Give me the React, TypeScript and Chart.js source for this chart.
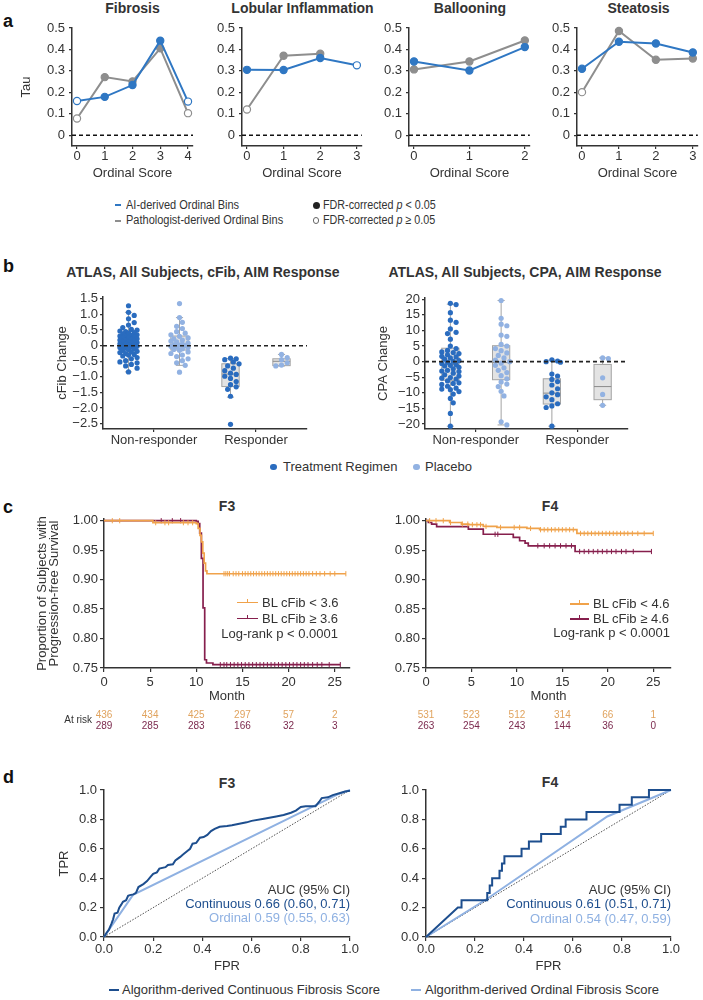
import React, { useEffect, useRef } from 'react';
import { Chart, registerables } from 'chart.js';
Chart.register(...registerables);

const FONT = "'Liberation Sans', Arial, Helvetica, sans-serif";
const AX = '#333333';
const TXT = '#333333';
const BLUE = '#2f77c3';
const GRAY = '#8e8e8e';
const TREAT = '#2a6cbf';
const PLAC = '#92b2e2';
const ORANGE = '#f0a24a';
const MAROON = '#861f4d';
const ROC_DARK = '#1d4e8e';
const ROC_LIGHT = '#8fb1e2';

// ---------------- Panel a ----------------
const tauTicks = [0, 0.1, 0.2, 0.3, 0.4, 0.5];
const tauTickLabels = ['0', '0.1', '0.2', '0.3', '0.4', '0.5'];

const fibrosisScores = [0, 1, 2, 3, 4];
const fibrosisAI = [0.16, 0.179, 0.234, 0.441, 0.157];
const fibrosisAISig = [false, true, true, true, false];
const fibrosisPath = [0.078, 0.271, 0.251, 0.405, 0.103];
const fibrosisPathSig = [false, true, true, true, false];

const lobularScores = [0, 1, 2, 3];
const lobularAI = [0.305, 0.304, 0.36, 0.326];
const lobularAISig = [true, true, true, false];
const lobularPath = [0.12, 0.371, 0.38];
const lobularPathSig = [false, true, true];

const balloonScores = [0, 1, 2];
const balloonAI = [0.344, 0.302, 0.411];
const balloonAISig = [true, true, true];
const balloonPath = [0.307, 0.344, 0.442];
const balloonPathSig = [true, true, true];

const steatosisScores = [0, 1, 2, 3];
const steatosisAI = [0.31, 0.436, 0.428, 0.386];
const steatosisAISig = [true, true, true, true];
const steatosisPath = [0.201, 0.486, 0.352, 0.358];
const steatosisPathSig = [false, true, true, true];

// ---------------- Panel b ----------------
const groupPositions = [1, 2, 3, 4];
const groupTicks = [1.5, 3.5];
const groupLabels = ['Non-responder', 'Responder'];

const cfibTicks = [-2.5, -2.0, -1.5, -1.0, -0.5, 0, 0.5, 1.0, 1.5];
const cfibTickLabels = ['−2.5', '−2.0', '−1.5', '−1.0', '−0.5', '0', '0.5', '1.0', '1.5'];
const cfibNonRespTreat = [1.28, 1.07, 0.97, 0.86, 0.74, 0.66, 0.58, 0.52, 0.5, 0.47, 0.45, 0.42, 0.4, 0.38, 0.35, 0.33, 0.31, 0.3, 0.28, 0.26, 0.24, 0.22, 0.2, 0.18, 0.17, 0.15, 0.13, 0.12, 0.1, 0.08, 0.06, 0.05, 0.03, 0.02, 0.0, -0.02, -0.04, -0.06, -0.08, -0.1, -0.12, -0.15, -0.18, -0.2, -0.22, -0.25, -0.28, -0.3, -0.33, -0.38, -0.42, -0.48, -0.52, -0.55, -0.6, -0.65, -0.72, -0.84];
const cfibNonRespPlacebo = [1.35, 0.9, 0.75, 0.62, 0.55, 0.45, 0.4, 0.35, 0.3, 0.25, 0.22, 0.18, 0.15, 0.12, 0.08, 0.05, 0.03, 0.02, 0.0, -0.02, -0.04, -0.06, -0.1, -0.12, -0.15, -0.2, -0.25, -0.3, -0.35, -0.42, -0.48, -0.55, -0.63, -0.85];
const cfibRespTreat = [-0.4, -0.42, -0.45, -0.52, -0.58, -0.65, -0.72, -0.8, -0.88, -0.92, -0.98, -1.05, -1.15, -1.25, -1.32, -1.4, -1.62, -2.52];
const cfibRespPlacebo = [-0.28, -0.38, -0.45, -0.55, -0.62, -0.65];
const cfibLow = [-0.84, -0.63, -1.65, -0.65];
const cfibQ1 = [-0.22, -0.14, -1.31, -0.64];
const cfibMed = [0.06, 0.02, -0.91, -0.5];
const cfibQ3 = [0.33, 0.31, -0.58, -0.42];
const cfibHigh = [1.07, 0.9, -0.41, -0.28];

const cpaTicks = [-20, -15, -10, -5, 0, 5, 10, 15, 20];
const cpaTickLabels = ['−20', '−15', '−10', '−5', '0', '5', '10', '15', '20'];
const cpaNonRespTreat = [18.7, 18.3, 15.7, 13.3, 12.6, 10.5, 9.4, 9.0, 7.2, 5.0, 4.2, 3.6, 3.1, 2.9, 2.6, 2.2, 1.7, 1.5, 1.2, 0.8, 0.3, 0.1, -0.2, -0.6, -1.0, -1.2, -1.4, -1.8, -2.3, -2.8, -3.0, -3.2, -3.7, -4.2, -4.6, -5.1, -5.3, -5.6, -6.2, -6.8, -7.0, -7.3, -7.9, -8.5, -8.8, -9.0, -9.6, -10.4, -11.8, -13.2, -16.6, -20.7];
const cpaNonRespPlacebo = [19.6, 13.9, 12.0, 11.5, 8.5, 8.1, 5.5, 5.0, 4.2, 3.5, 2.8, 2.0, 1.2, 0.5, 0.0, -0.5, -1.2, -2.0, -2.8, -3.5, -4.5, -5.5, -6.5, -7.2, -8.0, -9.5, -11.0, -19.3, -20.3];
const cpaRespTreat = [0.6, 0.2, 0.0, -0.2, -4.0, -4.6, -5.7, -6.4, -7.5, -8.7, -10.0, -10.6, -11.3, -12.2, -13.5, -14.2, -14.7, -20.7];
const cpaRespPlacebo = [1.2, 1.0, -5.2, -10.5, -14.0];
const cpaLow = [-20.7, -20.3, -20.7, -14.0];
const cpaQ1 = [-6.0, -5.8, -13.6, -12.2];
const cpaMed = [-0.9, -0.3, -10.1, -8.0];
const cpaQ3 = [4.3, 5.1, -5.5, -0.9];
const cpaHigh = [18.4, 19.6, 0.5, 1.2];

// ---------------- Panel c ----------------
const monthTicks = [0, 5, 10, 15, 20, 25];
const monthLabels = ['0', '5', '10', '15', '20', '25'];
const kmTicks = [0.75, 0.8, 0.85, 0.9, 0.95, 1.0];
const kmTickLabels = ['0.75', '0.80', '0.85', '0.90', '0.95', '1.00'];

const f3LowTimes = [0, 5.3, 10.0, 10.2, 10.4, 10.55, 10.7, 10.85, 11.0, 11.15, 26.2];
const f3LowSurv = [1.0, 0.9966, 0.995, 0.987, 0.975, 0.964, 0.945, 0.928, 0.915, 0.91, 0.91];
const f3LowCensor = [0.9, 1.7, 5.6, 6.6, 7.0, 8.6, 9.1, 9.6, 13.0, 13.2, 13.4, 13.6, 14.0, 14.3, 14.6, 15.0, 15.3, 15.6, 15.9, 16.2, 16.5, 16.8, 17.1, 17.4, 17.7, 18.0, 18.3, 18.6, 18.9, 19.2, 19.5, 19.8, 20.1, 20.4, 20.7, 21.0, 21.3, 21.6, 21.9, 22.2, 22.6, 23.0, 23.4, 23.9, 24.5, 25.0, 26.2];
const f3HighTimes = [0, 10.0, 10.2, 10.37, 10.55, 10.73, 10.91, 11.1, 11.8, 25.6];
const f3HighSurv = [1.0, 0.999, 0.995, 0.979, 0.936, 0.852, 0.764, 0.7585, 0.7557, 0.7557];
const f3HighCensor = [6.2, 7.4, 8.3, 12.6, 13.0, 13.3, 13.7, 14.1, 14.5, 14.9, 15.3, 15.7, 16.1, 16.5, 16.9, 17.3, 17.7, 18.1, 18.5, 18.9, 19.3, 19.7, 20.1, 20.5, 20.9, 21.3, 21.7, 22.1, 22.6, 23.1, 23.6, 24.4, 25.6];

const f4LowTimes = [0, 2.6, 3.9, 4.7, 6.3, 7.8, 11.1, 12.5, 16.6, 25.0];
const f4LowSurv = [1.0, 0.997, 0.9943, 0.9932, 0.9903, 0.9886, 0.9869, 0.9847, 0.9784, 0.9784];
const f4LowCensor = [0.4, 1.1, 1.9, 2.7, 4.0, 4.6, 5.1, 5.6, 6.0, 6.6, 8.2, 9.7, 10.3, 11.5, 12.6, 13.0, 13.4, 13.8, 14.2, 14.6, 15.0, 15.4, 15.8, 16.2, 17.0, 17.4, 17.8, 18.2, 18.6, 19.0, 19.4, 19.8, 20.2, 20.6, 21.0, 21.4, 21.8, 22.2, 22.7, 23.3, 24.0, 25.0];
const f4HighTimes = [0, 0.26, 0.62, 1.17, 4.66, 6.3, 9.6, 10.3, 10.9, 11.25, 16.4, 24.8];
const f4HighSurv = [1.0, 0.997, 0.9943, 0.9898, 0.9858, 0.977, 0.9716, 0.966, 0.962, 0.9574, 0.9477, 0.9477];
const f4HighCensor = [7.6, 7.9, 12.3, 13.0, 13.6, 14.2, 14.8, 15.4, 16.0, 16.9, 17.4, 17.9, 18.4, 18.9, 19.4, 19.9, 20.4, 20.9, 21.5, 22.0, 22.8, 24.8];

const f3AtRiskLow = [436, 434, 425, 297, 57, 2];
const f3AtRiskHigh = [289, 285, 283, 166, 32, 3];
const f4AtRiskLow = [531, 523, 512, 314, 66, 1];
const f4AtRiskHigh = [263, 254, 243, 144, 36, 0];

// ---------------- Panel d ----------------
const rocTicks = [0, 0.2, 0.4, 0.6, 0.8, 1.0];
const rocTickLabels = ['0.0', '0.2', '0.4', '0.6', '0.8', '1.0'];
const rocF3ContFpr = [0, 0.01, 0.02, 0.03, 0.037, 0.043, 0.055, 0.062, 0.07, 0.077, 0.09, 0.098, 0.105, 0.12, 0.13, 0.14, 0.16, 0.175, 0.19, 0.2, 0.215, 0.225, 0.25, 0.26, 0.28, 0.29, 0.31, 0.32, 0.335, 0.35, 0.36, 0.375, 0.39, 0.405, 0.42, 0.435, 0.45, 0.47, 0.5, 0.52, 0.55, 0.58, 0.6, 0.65, 0.7, 0.73, 0.76, 0.78, 0.8, 0.82, 0.86, 0.875, 0.885, 0.91, 0.93, 0.96, 0.98, 1.0];
const rocF3ContTpr = [0, 0.027, 0.05, 0.09, 0.12, 0.16, 0.165, 0.2, 0.22, 0.24, 0.25, 0.28, 0.285, 0.29, 0.3, 0.34, 0.36, 0.38, 0.41, 0.43, 0.44, 0.465, 0.475, 0.49, 0.495, 0.52, 0.545, 0.56, 0.58, 0.6, 0.635, 0.64, 0.675, 0.68, 0.695, 0.72, 0.735, 0.75, 0.755, 0.76, 0.77, 0.78, 0.79, 0.805, 0.82, 0.83, 0.845, 0.86, 0.885, 0.89, 0.89, 0.92, 0.945, 0.95, 0.965, 0.98, 0.99, 0.995];
const rocF3OrdFpr = [0, 0.118, 0.95, 1.0];
const rocF3OrdTpr = [0, 0.287, 0.97, 1.0];
const rocF4ContFpr = [0, 0.13, 0.145, 0.145, 0.25, 0.25, 0.26, 0.26, 0.27, 0.27, 0.30, 0.30, 0.31, 0.31, 0.32, 0.32, 0.39, 0.39, 0.42, 0.42, 0.47, 0.47, 0.55, 0.55, 0.57, 0.57, 0.655, 0.655, 0.79, 0.79, 0.84, 0.84, 0.91, 0.91, 1.0];
const rocF4ContTpr = [0, 0.2, 0.2, 0.25, 0.25, 0.30, 0.30, 0.35, 0.35, 0.40, 0.40, 0.45, 0.45, 0.50, 0.50, 0.55, 0.55, 0.60, 0.60, 0.65, 0.65, 0.70, 0.70, 0.75, 0.75, 0.80, 0.80, 0.85, 0.85, 0.90, 0.90, 0.95, 0.95, 1.0, 1.0];
const rocF4OrdFpr = [0, 0.25, 0.74, 1.0];
const rocF4OrdTpr = [0, 0.26, 0.82, 1.0];

// ---------------- helpers ----------------
type Box = { L: number; T: number; W: number; H: number; area: number[]; xH: number };
type AxisOpt = { min: number; max: number; ticks: number[]; labels: string[]; title?: string | string[]; titleLH?: number; tl: number; pad: number };

function layoutPadding(b: Box) {
  const [x1, y1, x2, y2] = b.area;
  return { left: 0, top: y1 - b.T, right: b.L + b.W - x2, bottom: b.T + b.H - y2 - b.xH };
}

function zeroPad(s: any) {
  s.paddingLeft = 0; s.paddingRight = 0; s.paddingTop = 0; s.paddingBottom = 0;
}

function axis(b: Box, o: AxisOpt, horizontal: boolean) {
  return {
    type: 'linear',
    position: horizontal ? 'bottom' : 'left',
    min: o.min,
    max: o.max,
    border: { display: true, color: AX, width: 1.5 },
    grid: { display: true, drawOnChartArea: false, drawTicks: true, tickLength: o.tl, color: AX, lineWidth: 1.2 },
    ticks: {
      color: TXT, font: { family: FONT, size: 13 }, padding: o.pad, autoSkip: false, maxRotation: 0, minRotation: 0,
      callback: (_v: any, i: number) => o.labels[i],
    },
    title: o.title
      ? { display: true, text: o.title, color: TXT, font: { family: FONT, size: 13, lineHeight: o.titleLH ?? 1.2 }, padding: 0 }
      : { display: false },
    afterBuildTicks: (s: any) => { s.ticks = o.ticks.map((v) => ({ value: v })); },
    afterFit: (s: any) => {
      if (horizontal) s.height = b.xH; else s.width = b.area[0] - b.L;
      zeroPad(s);
    },
  };
}

function baseOptions(b: Box, scales: any) {
  return {
    responsive: false,
    maintainAspectRatio: false,
    animation: false,
    events: [],
    layout: { padding: layoutPadding(b) },
    plugins: { legend: { display: false }, tooltip: { enabled: false }, title: { display: false } },
    scales,
  };
}

function refLinePlugin(y: number, color: string, width: number, dash: number[]) {
  return {
    id: 'refLine',
    beforeDatasetsDraw(chart: any) {
      const { ctx, chartArea, scales } = chart;
      const py = scales.y.getPixelForValue(y);
      ctx.save();
      ctx.strokeStyle = color; ctx.lineWidth = width; ctx.setLineDash(dash);
      ctx.beginPath(); ctx.moveTo(chartArea.left, py); ctx.lineTo(chartArea.right, py); ctx.stroke();
      ctx.restore();
    },
  };
}

function boxPlugin(low: number[], q1: number[], med: number[], q3: number[], high: number[]) {
  return {
    id: 'boxes',
    beforeDatasetsDraw(chart: any) {
      const { ctx, scales: { x, y } } = chart;
      ctx.save();
      groupPositions.forEach((p, g) => {
        const xc = x.getPixelForValue(p);
        const hw = x.getPixelForValue(p + 0.17) - xc;
        const cw = x.getPixelForValue(p + 0.07) - xc;
        const yl = y.getPixelForValue(low[g]);
        const yq1 = y.getPixelForValue(q1[g]);
        const ym = y.getPixelForValue(med[g]);
        const yq3 = y.getPixelForValue(q3[g]);
        const yh = y.getPixelForValue(high[g]);
        ctx.strokeStyle = '#a3a3a3'; ctx.lineWidth = 1;
        ctx.beginPath();
        ctx.moveTo(xc, yh); ctx.lineTo(xc, yq3);
        ctx.moveTo(xc, yq1); ctx.lineTo(xc, yl);
        ctx.moveTo(xc - cw, yh); ctx.lineTo(xc + cw, yh);
        ctx.moveTo(xc - cw, yl); ctx.lineTo(xc + cw, yl);
        ctx.stroke();
        ctx.fillStyle = '#e3e3e3';
        ctx.fillRect(xc - hw, yq3, 2 * hw, yq1 - yq3);
        ctx.strokeRect(xc - hw, yq3, 2 * hw, yq1 - yq3);
        ctx.strokeStyle = '#8a8a8a';
        ctx.beginPath(); ctx.moveTo(xc - hw, ym); ctx.lineTo(xc + hw, ym); ctx.stroke();
      });
      ctx.restore();
    },
    afterDatasetsDraw(chart: any) {
      const { ctx, chartArea, scales: { y } } = chart;
      const py = y.getPixelForValue(0);
      ctx.save();
      ctx.strokeStyle = '#222'; ctx.lineWidth = 1.6; ctx.setLineDash([4, 3]);
      ctx.beginPath(); ctx.moveTo(chartArea.left, py); ctx.lineTo(chartArea.right, py); ctx.stroke();
      ctx.restore();
    },
  };
}

function atRiskPlugin(rows: number[][], colors: string[], dys: number[], label: string | null) {
  return {
    id: 'atRisk',
    afterDraw(chart: any) {
      const { ctx, chartArea, scales } = chart;
      ctx.save();
      ctx.font = `10px ${FONT}`;
      ctx.textBaseline = 'middle';
      ctx.textAlign = 'center';
      rows.forEach((row, r) => {
        ctx.fillStyle = colors[r];
        row.forEach((n, i) => ctx.fillText(String(n), scales.x.getPixelForValue(monthTicks[i]), chartArea.bottom + dys[r]));
      });
      if (label) {
        ctx.fillStyle = TXT; ctx.textAlign = 'right';
        ctx.fillText(label, chartArea.left - 12, chartArea.bottom + (dys[0] + dys[1]) / 2);
      }
      ctx.restore();
    },
  };
}

function swarmOffsets(values: number[], yPx: number, xPx: number, diam: number, maxOff: number): number[] {
  const order = values.map((_, i) => i).sort((a, b) => values[b] - values[a]);
  const placed: { x: number; y: number }[] = [];
  const out: number[] = values.map(() => 0);
  const step = diam * 0.55;
  for (const i of order) {
    const y = values[i] * yPx;
    let chosen = 0;
    let bestGap = -1;
    for (let k = 0; k < 200; k++) {
      const c = k === 0 ? 0 : (k % 2 === 1 ? 1 : -1) * Math.ceil(k / 2) * step;
      if (Math.abs(c) > maxOff) break;
      let gap = Infinity;
      for (const p of placed) {
        const d = Math.hypot(p.x - c, p.y - y);
        if (d < gap) gap = d;
      }
      if (gap >= diam) { chosen = c; break; }
      if (gap > bestGap) { bestGap = gap; chosen = c; }
    }
    placed.push({ x: chosen, y });
    out[i] = chosen / xPx;
  }
  return out;
}

function survAt(times: number[], surv: number[], t: number) {
  let s = surv[0];
  for (let i = 0; i < times.length; i++) if (times[i] <= t) s = surv[i];
  return s;
}

// ---------------- chart builders ----------------
function tauConfig(b: Box, scores: number[], ai: number[], aiSig: boolean[], path: number[], pathSig: boolean[], yTitle: boolean) {
  const N = scores[scores.length - 1];
  const padU = 0.045 * N;
  const ds = (vals: number[], sig: boolean[], color: string) => ({
    type: 'line',
    data: vals.map((v, i) => ({ x: scores[i], y: v })),
    borderColor: color,
    borderWidth: 2,
    pointRadius: 3.6,
    pointBorderWidth: 1.2,
    pointBackgroundColor: sig.map((s) => (s ? color : '#ffffff')),
    pointBorderColor: color,
    tension: 0,
    clip: false,
  });
  return {
    type: 'line',
    data: { datasets: [ds(ai, aiSig, BLUE), ds(path, pathSig, GRAY)] },
    options: baseOptions(b, {
      x: axis(b, { min: -padU, max: N + padU, ticks: scores, labels: scores.map(String), title: 'Ordinal Score', tl: 3, pad: 0 }, true),
      y: axis(b, { min: -0.05, max: 0.5, ticks: tauTicks, labels: tauTickLabels, title: yTitle ? 'Tau' : undefined, tl: 3, pad: 4 }, false),
    }),
    plugins: [refLinePlugin(0, '#111', 1.5, [4, 3])],
  };
}

function swarmConfig(b: Box, groups: number[][], yMin: number, yMax: number, ticks: number[], labels: string[], title: string,
  low: number[], q1: number[], med: number[], q3: number[], high: number[]) {
  const xMin = 0.5, xMax = 4.5;
  const [x1, y1, x2, y2] = b.area;
  const xPx = (x2 - x1) / (xMax - xMin);
  const yPx = (y2 - y1) / (yMax - yMin);
  const colors = [TREAT, PLAC, TREAT, PLAC];
  const datasets = groups.map((vals, g) => {
    const offs = swarmOffsets(vals, yPx, xPx, 5.2, 11);
    return {
      type: 'scatter',
      data: vals.map((v, i) => ({ x: groupPositions[g] + offs[i], y: v })),
      pointRadius: 2.6,
      pointBackgroundColor: colors[g],
      pointBorderWidth: 0,
      showLine: false,
      clip: false,
    };
  });
  return {
    type: 'scatter',
    data: { datasets },
    options: baseOptions(b, {
      x: axis(b, { min: xMin, max: xMax, ticks: groupTicks, labels: groupLabels, tl: 3, pad: 1 }, true),
      y: axis(b, { min: yMin, max: yMax, ticks, labels, title, tl: 3, pad: 2 }, false),
    }),
    plugins: [boxPlugin(low, q1, med, q3, high)],
  };
}

type Curve = { times: number[]; surv: number[]; censor: number[]; color: string };
function kmConfig(b: Box, curves: Curve[], xMax: number, atRisk: number[][], yTitle: boolean) {
  const datasets: any[] = [];
  curves.forEach((c) => {
    datasets.push({
      type: 'line',
      data: c.times.map((t, i) => ({ x: t, y: c.surv[i] })),
      stepped: true,
      borderColor: c.color,
      borderWidth: 1.7,
      pointRadius: 0,
      clip: false,
    });
    datasets.push({
      type: 'line',
      data: c.censor.map((t) => ({ x: t, y: survAt(c.times, c.surv, t) })),
      showLine: false,
      pointStyle: 'line',
      rotation: 90,
      pointRadius: 2.6,
      pointBorderColor: c.color,
      pointBorderWidth: 1,
      clip: false,
    });
  });
  return {
    type: 'line',
    data: { datasets },
    options: baseOptions(b, {
      x: axis(b, { min: 0, max: xMax, ticks: monthTicks, labels: monthLabels, title: 'Month', tl: 4, pad: 3 }, true),
      y: axis(b, {
        min: 0.75, max: 1.0029, ticks: kmTicks, labels: kmTickLabels,
        title: yTitle ? ['Proportion of Subjects with', 'Progression-free Survival'] : undefined, titleLH: 0.9, tl: 4, pad: 2,
      }, false),
    }),
    plugins: [atRiskPlugin(atRisk, ['#e0a35e', '#7c2a4e'], [47, 58], yTitle ? 'At risk' : null)],
  };
}

function rocConfig(b: Box, cFpr: number[], cTpr: number[], oFpr: number[], oTpr: number[], yTitle: boolean) {
  return {
    type: 'line',
    data: {
      datasets: [
        { type: 'line', data: cFpr.map((f, i) => ({ x: f, y: cTpr[i] })), borderColor: ROC_DARK, borderWidth: 2, pointRadius: 0, tension: 0, clip: false },
        { type: 'line', data: oFpr.map((f, i) => ({ x: f, y: oTpr[i] })), borderColor: ROC_LIGHT, borderWidth: 2, pointRadius: 0, tension: 0, clip: false },
        {
          type: 'line',
          data: [{ x: rocTicks[0], y: rocTicks[0] }, { x: rocTicks[rocTicks.length - 1], y: rocTicks[rocTicks.length - 1] }],
          borderColor: '#222', borderWidth: 0.8, borderDash: [1.5, 1.5], pointRadius: 0,
        },
      ],
    },
    options: baseOptions(b, {
      x: axis(b, { min: 0, max: 1, ticks: rocTicks, labels: rocTickLabels, title: 'FPR', tl: 4, pad: 1 }, true),
      y: axis(b, { min: 0, max: 1, ticks: rocTicks, labels: rocTickLabels, title: yTitle ? 'TPR' : undefined, tl: 4, pad: 3 }, false),
    }),
  };
}

// ---------------- components ----------------
function ChartCanvas({ box, make }: { box: Box; make: () => any }) {
  const ref = useRef<HTMLCanvasElement | null>(null);
  useEffect(() => {
    if (!ref.current) return;
    const chart = new Chart(ref.current, make());
    return () => chart.destroy();
  }, []);
  return (
    <canvas
      ref={ref}
      width={box.W}
      height={box.H}
      style={{ position: 'absolute', left: box.L, top: box.T, width: box.W, height: box.H }}
    />
  );
}

function Txt({ x, y, size = 13, bold = false, align = 'left', color = TXT, sx = 1, children }:
  { x: number; y: number; size?: number; bold?: boolean; align?: 'left' | 'center' | 'right'; color?: string; sx?: number; children: any }) {
  const lh = Math.round(size * 1.2);
  const tx = align === 'center' ? '-50%' : align === 'right' ? '-100%' : '0';
  return (
    <div
      style={{
        position: 'absolute', left: x, top: y - lh / 2, fontFamily: FONT, fontSize: size, fontWeight: bold ? 700 : 400,
        lineHeight: `${lh}px`, color, whiteSpace: 'nowrap', transform: `translateX(${tx}) scaleX(${sx})`,
        transformOrigin: align === 'center' ? 'center' : align,
      }}
    >
      {children}
    </div>
  );
}

function HLine({ x1, x2, y, color, w = 2, tick = false }: { x1: number; x2: number; y: number; color: string; w?: number; tick?: boolean }) {
  return (
    <>
      <div style={{ position: 'absolute', left: x1, top: y - w / 2, width: x2 - x1, height: w, background: color }} />
      {tick && <div style={{ position: 'absolute', left: (x1 + x2) / 2 - 0.5, top: y - 4, width: 1, height: 4, background: color }} />}
    </>
  );
}

function Dot({ x, y, d, color, open = false }: { x: number; y: number; d: number; color: string; open?: boolean }) {
  return (
    <div
      style={{
        position: 'absolute', left: x - d / 2, top: y - d / 2, width: d, height: d, borderRadius: '50%', boxSizing: 'border-box',
        background: open ? '#fff' : color, border: open ? `1px solid ${color}` : 'none',
      }}
    />
  );
}

const boxA1: Box = { L: 19, T: 20, W: 180, H: 161, area: [72, 28, 193, 146], xH: 35 };
const boxA2: Box = { L: 202, T: 20, W: 165, H: 161, area: [242, 28, 363, 146], xH: 35 };
const boxA3: Box = { L: 369, T: 20, W: 166, H: 161, area: [409, 28, 531, 146], xH: 35 };
const boxA4: Box = { L: 539, T: 20, W: 164, H: 161, area: [577, 28, 700, 146], xH: 35 };
const boxB1: Box = { L: 55, T: 290, W: 260, H: 167, area: [103, 297, 307, 429], xH: 28 };
const boxB2: Box = { L: 376, T: 290, W: 260, H: 167, area: [425, 298, 628, 429], xH: 28 };
const boxC1: Box = { L: 37, T: 512, W: 323, H: 224, area: [104, 519, 350, 668], xH: 36.5 };
const boxC2: Box = { L: 386, T: 512, W: 295, H: 224, area: [426, 519, 671, 668], xH: 36.5 };
const boxD1: Box = { L: 57, T: 782, W: 303, H: 193, area: [104, 790, 350, 937], xH: 37.5 };
const boxD2: Box = { L: 386, T: 782, W: 295, H: 193, area: [426, 790, 671, 937], xH: 37.5 };

export default function App() {
  return (
    <div style={{ position: 'absolute', left: 0, top: 0, width: 703, height: 1000, background: '#fff', overflow: 'hidden' }}>
      {/* Panel letters */}
      <Txt x={3} y={21} size={18} bold color="#111">a</Txt>
      <Txt x={3} y={266} size={18} bold color="#111">b</Txt>
      <Txt x={3} y={507} size={18} bold color="#111">c</Txt>
      <Txt x={3} y={777} size={18} bold color="#111">d</Txt>

      {/* Panel a */}
      <Txt x={132.5} y={8.5} size={14} bold align="center">Fibrosis</Txt>
      <Txt x={302.5} y={8.5} size={14} bold align="center">Lobular Inflammation</Txt>
      <Txt x={470} y={8.5} size={14} bold align="center">Ballooning</Txt>
      <Txt x={638.5} y={8.5} size={14} bold align="center">Steatosis</Txt>
      <ChartCanvas box={boxA1} make={() => tauConfig(boxA1, fibrosisScores, fibrosisAI, fibrosisAISig, fibrosisPath, fibrosisPathSig, true)} />
      <ChartCanvas box={boxA2} make={() => tauConfig(boxA2, lobularScores, lobularAI, lobularAISig, lobularPath, lobularPathSig, false)} />
      <ChartCanvas box={boxA3} make={() => tauConfig(boxA3, balloonScores, balloonAI, balloonAISig, balloonPath, balloonPathSig, false)} />
      <ChartCanvas box={boxA4} make={() => tauConfig(boxA4, steatosisScores, steatosisAI, steatosisAISig, steatosisPath, steatosisPathSig, false)} />

      <HLine x1={115} x2={121} y={205} color={BLUE} w={2} />
      <Txt x={126} y={205} size={12.5} sx={0.88}>AI-derived Ordinal Bins</Txt>
      <HLine x1={115} x2={121} y={220.5} color={GRAY} w={2} />
      <Txt x={126} y={220.5} size={12.5} sx={0.88}>Pathologist-derived Ordinal Bins</Txt>
      <Dot x={316} y={205} d={7} color="#222" />
      <Txt x={323} y={205} size={12.5} sx={0.86}>FDR-corrected <i>p</i> &lt; 0.05</Txt>
      <Dot x={316} y={220.5} d={6.5} color="#666" open />
      <Txt x={323} y={220.5} size={12.5} sx={0.86}>FDR-corrected <i>p</i> ≥ 0.05</Txt>

      {/* Panel b */}
      <Txt x={203} y={272} size={14} bold align="center">ATLAS, All Subjects, cFib, AIM Response</Txt>
      <Txt x={525} y={272} size={14} bold align="center">ATLAS, All Subjects, CPA, AIM Response</Txt>
      <ChartCanvas
        box={boxB1}
        make={() => swarmConfig(boxB1, [cfibNonRespTreat, cfibNonRespPlacebo, cfibRespTreat, cfibRespPlacebo], -2.67, 1.56,
          cfibTicks, cfibTickLabels, 'cFib Change', cfibLow, cfibQ1, cfibMed, cfibQ3, cfibHigh)}
      />
      <ChartCanvas
        box={boxB2}
        make={() => swarmConfig(boxB2, [cpaNonRespTreat, cpaNonRespPlacebo, cpaRespTreat, cpaRespPlacebo], -21.6, 20.4,
          cpaTicks, cpaTickLabels, 'CPA Change', cpaLow, cpaQ1, cpaMed, cpaQ3, cpaHigh)}
      />
      <Dot x={273.5} y={467} d={6.5} color={TREAT} />
      <Txt x={283} y={467} size={13}>Treatment Regimen</Txt>
      <Dot x={416.5} y={467} d={6.5} color={PLAC} />
      <Txt x={425} y={467} size={13}>Placebo</Txt>

      {/* Panel c */}
      <Txt x={227} y={506} size={14} bold align="center">F3</Txt>
      <Txt x={550} y={506} size={14} bold align="center">F4</Txt>
      <ChartCanvas
        box={boxC1}
        make={() => kmConfig(boxC1, [
          { times: f3LowTimes, surv: f3LowSurv, censor: f3LowCensor, color: ORANGE },
          { times: f3HighTimes, surv: f3HighSurv, censor: f3HighCensor, color: MAROON },
        ], 26.65, [f3AtRiskLow, f3AtRiskHigh], true)}
      />
      <ChartCanvas
        box={boxC2}
        make={() => kmConfig(boxC2, [
          { times: f4LowTimes, surv: f4LowSurv, censor: f4LowCensor, color: ORANGE },
          { times: f4HighTimes, surv: f4HighSurv, censor: f4HighCensor, color: MAROON },
        ], 26.95, [f4AtRiskLow, f4AtRiskHigh], false)}
      />
      <HLine x1={237} x2={258} y={602.5} color={ORANGE} w={1.6} tick />
      <Txt x={262} y={602.5} size={13}>BL cFib &lt; 3.6</Txt>
      <HLine x1={237} x2={258} y={618.5} color={MAROON} w={1.6} tick />
      <Txt x={262} y={618.5} size={13}>BL cFib ≥ 3.6</Txt>
      <Txt x={338} y={634} size={13} align="right">Log-rank p &lt; 0.0001</Txt>

      <HLine x1={570} x2={589} y={604} color={ORANGE} w={1.6} tick />
      <Txt x={593} y={604} size={13}>BL cFib &lt; 4.6</Txt>
      <HLine x1={570} x2={589} y={619} color={MAROON} w={1.6} tick />
      <Txt x={593} y={619} size={13}>BL cFib ≥ 4.6</Txt>
      <Txt x={670} y={633} size={13} align="right">Log-rank p &lt; 0.0001</Txt>

      {/* Panel d */}
      <Txt x={227} y={783} size={14} bold align="center">F3</Txt>
      <Txt x={550} y={782} size={14} bold align="center">F4</Txt>
      <ChartCanvas box={boxD1} make={() => rocConfig(boxD1, rocF3ContFpr, rocF3ContTpr, rocF3OrdFpr, rocF3OrdTpr, true)} />
      <ChartCanvas box={boxD2} make={() => rocConfig(boxD2, rocF4ContFpr, rocF4ContTpr, rocF4OrdFpr, rocF4OrdTpr, false)} />
      <Txt x={350} y={890} size={13} align="right">AUC (95% CI)</Txt>
      <Txt x={350} y={904} size={13} align="right" color={ROC_DARK}>Continuous 0.66 (0.60, 0.71)</Txt>
      <Txt x={350} y={918} size={13} align="right" color={ROC_LIGHT}>Ordinal 0.59 (0.55, 0.63)</Txt>
      <Txt x={671} y={890} size={13} align="right">AUC (95% CI)</Txt>
      <Txt x={671} y={904} size={13} align="right" color={ROC_DARK}>Continuous 0.61 (0.51, 0.71)</Txt>
      <Txt x={671} y={918.5} size={13} align="right" color={ROC_LIGHT}>Ordinal 0.54 (0.47, 0.59)</Txt>

      <HLine x1={109} x2={119} y={990} color={ROC_DARK} w={2} />
      <Txt x={122} y={990} size={13}>Algorithm-derived Continuous Fibrosis Score</Txt>
      <HLine x1={411} x2={421} y={990} color={ROC_LIGHT} w={2} />
      <Txt x={425} y={990} size={13}>Algorithm-derived Ordinal Fibrosis Score</Txt>
    </div>
  );
}
